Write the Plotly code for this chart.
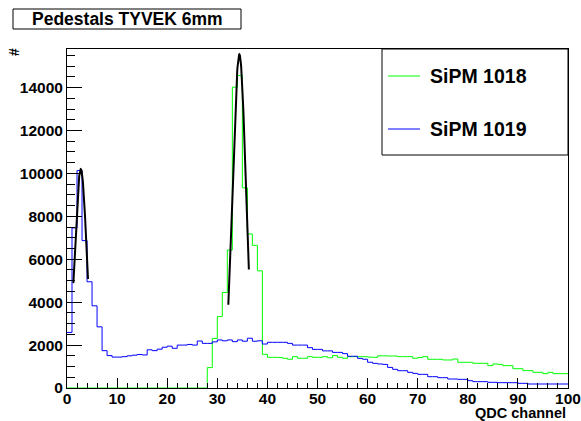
import numpy as np
import plotly.graph_objects as go

# ---------------- data ----------------
bin_edges_lo = list(range(0, 100))  # QDC channel bins, width 1
series_names = ["SiPM 1018", "SiPM 1019"]

sipm1018 = [0]*28 + [
    950, 2310, 3330, 4450, 6430, 14020, 14560, 9330, 7180, 6650,      # 28-37
    5460, 1570, 1430, 1430, 1420, 1385, 1340, 1460, 1385, 1385,       # 38-47
    1460, 1430, 1430, 1460, 1410, 1510, 1430, 1385, 1460, 1460,       # 48-57
    1460, 1460, 1440, 1430, 1500, 1500, 1490, 1490, 1462, 1462,       # 58-67
    1462, 1385, 1420, 1462, 1338, 1338, 1338, 1306, 1306, 1350,       # 68-77
    1198, 1198, 1198, 1151, 1151, 1151, 1042, 1120, 1100, 1042,       # 78-87
    1042, 900, 900, 809, 809, 731, 731, 669, 731, 669,                # 88-97
    669, 669]                                                         # 98-99

sipm1019 = [
    2590, 7460, 10140, 6870, 4950, 3830, 2850, 1740, 1510, 1440,      # 0-9
    1440, 1460, 1500, 1530, 1560, 1540, 1780, 1740, 1810, 1900,       # 10-19
    1950, 1850, 2000, 2000, 2030, 2000, 2190, 2080, 2080, 2150,       # 20-29
    2240, 2200, 2240, 2160, 2240, 2180, 2320, 2180, 2200, 2050,       # 30-39
    2130, 2130, 2130, 2130, 2080, 2000, 2000, 2000, 1880, 1800,       # 40-49
    1800, 1730, 1730, 1660, 1660, 1600, 1480, 1480, 1380, 1340,       # 50-59
    1200, 1150, 1120, 1100, 960, 870, 806, 806, 730, 682,             # 60-69
    636, 636, 527, 527, 481, 481, 419, 419, 403, 403,                 # 70-79
    341, 295, 295, 295, 264, 264, 248, 248, 248, 248,                 # 80-89
    217, 217, 186, 186, 186, 186, 186, 186, 186, 186]                 # 90-99

# Gaussian fit parameters (amplitude, mean, sigma, range)
fit1019 = dict(amp=10200, mean=2.75, sigma=1.22, xmin=1.27, xmax=4.19)
fit1018 = dict(amp=15550, mean=34.4, sigma=1.32, xmin=32.2, xmax=36.3)

x_tick_vals = list(range(0, 101, 10))
y_tick_vals = list(range(0, 15000, 2000))
title_text = "Pedestals TYVEK 6mm"
x_title = "QDC channel"
y_title = "#"

# ---------------- figure ----------------
FONT = "Liberation Sans, Arial, Helvetica, sans-serif"
GREEN = "#00ff00"
BLUE = "#0000ff"


def step_xy(vals):
    xs = bin_edges_lo + [bin_edges_lo[-1] + 1]
    ys = list(vals) + [vals[-1]]
    return xs, ys


def gauss_curve(p):
    xs = np.linspace(p["xmin"], p["xmax"], 100)
    ys = p["amp"] * np.exp(-0.5 * ((xs - p["mean"]) / p["sigma"]) ** 2)
    return xs, ys


fig = go.Figure()
gx, gy = step_xy(sipm1018)
bx, by = step_xy(sipm1019)
fig.add_trace(go.Scatter(x=gx, y=gy, mode="lines", line=dict(color=GREEN, width=1, shape="hv"),
                         name=series_names[0], showlegend=False))
fig.add_trace(go.Scatter(x=bx, y=by, mode="lines", line=dict(color=BLUE, width=1, shape="hv"),
                         name=series_names[1], showlegend=False))
for p in (fit1019, fit1018):
    fx, fy = gauss_curve(p)
    fig.add_trace(go.Scatter(x=fx, y=fy, mode="lines", line=dict(color="black", width=2),
                             showlegend=False, hoverinfo="skip"))

L, R, T, B = 67, 13, 49, 33
W, H = 581, 421
pw, ph = W - L - R, H - T - B


def px(xp):
    return (xp - L) / pw


def py(yp):
    return (H - B - yp) / ph


tickfont = dict(family=FONT, size=15.5, color="black", weight="bold")

fig.update_xaxes(range=[0, 100], tickvals=x_tick_vals, ticks="inside", ticklen=10, tickwidth=1,
                 tickcolor="black", showgrid=False, zeroline=False, showline=True, linecolor="black",
                 linewidth=1, mirror=True, tickfont=tickfont, automargin=False, ticklabelstandoff=-4,
                 minor=dict(dtick=2, ticks="inside", ticklen=5, tickcolor="black", showgrid=False))
fig.update_yaxes(range=[0, 15800], tickvals=y_tick_vals, tickformat="d", ticks="inside", ticklen=15,
                 tickwidth=1, tickcolor="black", showgrid=False, zeroline=False, showline=True,
                 linecolor="black", linewidth=1, mirror=True, tickfont=tickfont, automargin=False,
                 minor=dict(dtick=500, ticks="inside", ticklen=8, tickcolor="black", showgrid=False))

shapes = []
annotations = []
# title box
shapes.append(dict(type="rect", xref="paper", yref="paper", x0=px(13), x1=px(241), y0=py(29), y1=py(9),
                   line=dict(color="black", width=1), fillcolor="white", layer="above"))
annotations.append(dict(text=title_text, xref="paper", yref="paper", x=px(127), y=py(19),
                        xanchor="center", yanchor="middle", showarrow=False,
                        font=dict(family=FONT, size=17.5, color="black", weight="bold")))
# legend box
shapes.append(dict(type="rect", xref="paper", yref="paper", x0=px(382), x1=px(568), y0=py(155), y1=py(49),
                   line=dict(color="black", width=1), fillcolor="white", layer="above"))
for name, col, yy in ((series_names[0], GREEN, 76), (series_names[1], BLUE, 129)):
    shapes.append(dict(type="line", xref="paper", yref="paper", x0=px(388), x1=px(420), y0=py(yy), y1=py(yy),
                       line=dict(color=col, width=1), layer="above"))
    annotations.append(dict(text=name, xref="paper", yref="paper", x=px(428), y=py(yy),
                            xanchor="left", yanchor="middle", showarrow=False,
                            font=dict(family=FONT, size=19.5, color="black", weight="bold")))
# axis titles
annotations.append(dict(text=x_title, xref="paper", yref="paper", x=px(568), y=py(412.5),
                        xanchor="right", yanchor="middle", showarrow=False,
                        font=dict(family=FONT, size=14.5, color="black", weight="bold")))
annotations.append(dict(text=y_title, xref="paper", yref="paper", x=px(14), y=py(52),
                        xanchor="center", yanchor="middle", showarrow=False, textangle=-90,
                        font=dict(family=FONT, size=14, color="black", weight="bold")))

fig.update_layout(width=W, height=H, margin=dict(l=L, r=R, t=T, b=B, pad=0, autoexpand=False),
                  paper_bgcolor="white", plot_bgcolor="white", showlegend=False,
                  shapes=shapes, annotations=annotations)

fig.write_html("out.html", config={"displayModeBar": False},
               post_script="document.body.style.margin='0';document.body.style.overflow='hidden';")
